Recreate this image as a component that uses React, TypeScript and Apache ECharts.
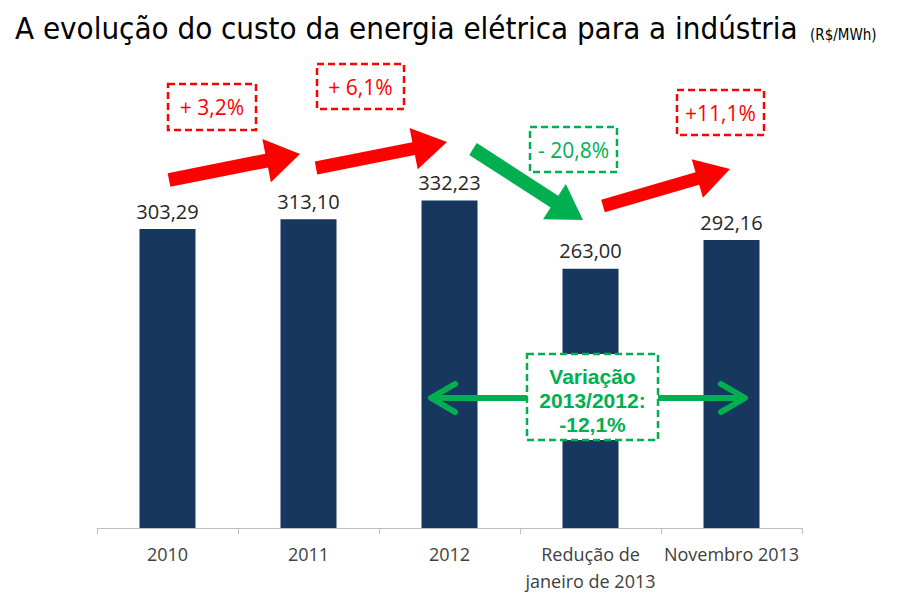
import React, { useEffect, useRef } from "react";
import * as echarts from "echarts";

const categories = ["2010", "2011", "2012", "Redução de\njaneiro de 2013", "Novembro 2013"];
const values = [303.29, 313.1, 332.23, 263.0, 292.16];
const titleText = "A evolução do custo da energia elétrica para a indústria";
const unitText = "(R$/MWh)";
const changeLabels = ["+ 3,2%", "+ 6,1%", "- 20,8%", "+11,1%"];
const variationText = "Variação\n2013/2012:\n-12,1%";

const RED = "#ff0000";
const GREEN = "#00b050";

function arrowPoints(tx: number, ty: number, hx: number, hy: number, s: number, hw: number, hl: number) {
  const dx = hx - tx, dy = hy - ty;
  const L = Math.hypot(dx, dy);
  const ux = dx / L, uy = dy / L;
  const nx = -uy, ny = ux;
  const bx = hx - ux * hl, by = hy - uy * hl;
  return [
    [tx + (nx * s) / 2, ty + (ny * s) / 2],
    [bx + (nx * s) / 2, by + (ny * s) / 2],
    [bx + (nx * hw) / 2, by + (ny * hw) / 2],
    [hx, hy],
    [bx - (nx * hw) / 2, by - (ny * hw) / 2],
    [bx - (nx * s) / 2, by - (ny * s) / 2],
    [tx - (nx * s) / 2, ty - (ny * s) / 2],
  ];
}

function dashedBox(x: number, y: number, w: number, h: number, color: string) {
  return {
    type: "rect",
    z: 100,
    shape: { x, y, width: w, height: h },
    style: { fill: "#ffffff", stroke: color, lineWidth: 2.5, lineDash: [7, 4] },
  };
}

function boxText(x: number, y: number, text: string, color: string, extra: any = {}) {
  return {
    type: "text",
    z: 101,
    style: {
      x,
      y,
      text,
      fill: color,
      align: "center",
      verticalAlign: "middle",
      fontFamily: "Open Sans",
      fontSize: 21,
      ...extra,
    },
  };
}

export default function App() {
  const ref = useRef<HTMLDivElement>(null);
  useEffect(() => {
    if (!ref.current) return;
    const chart = echarts.init(ref.current, undefined, { renderer: "svg" });
    const arrows = [
      { p: arrowPoints(169, 180, 300, 154, 14, 44, 34), c: RED },
      { p: arrowPoints(316, 168, 447, 142, 13, 42, 34), c: RED },
      { p: arrowPoints(473, 149, 583, 220, 14, 42, 34), c: GREEN },
      { p: arrowPoints(603, 206, 730, 169, 13, 40, 34), c: RED },
    ];
    chart.setOption({
      animation: false,
      backgroundColor: "#ffffff",
      title: [
        {
          text: titleText,
          left: 10,
          top: 7,
          textStyle: { fontFamily: "DejaVu Sans Condensed, DejaVu Sans", fontSize: 31, fontWeight: "normal", color: "#000000" },
        },
        {
          text: unitText,
          left: 805,
          top: 22,
          textStyle: { fontFamily: "DejaVu Sans Condensed, DejaVu Sans", fontSize: 15, fontWeight: "normal", color: "#000000" },
        },
      ],
      grid: { left: 97, right: 106, top: 183, bottom: 70 },
      xAxis: {
        type: "category",
        data: categories,
        axisLine: { lineStyle: { color: "#bfbfbf", width: 1 } },
        axisTick: { show: true, length: 6, lineStyle: { color: "#bfbfbf" } },
        axisLabel: {
          interval: 0,
          margin: 12,
          color: "#404040",
          fontFamily: "Open Sans",
          fontSize: 18,
          lineHeight: 27,
        },
      },
      yAxis: { type: "value", min: 0, max: 350, show: false },
      series: [
        {
          type: "bar",
          data: values,
          barWidth: 56,
          itemStyle: { color: "#17375e" },
          label: {
            show: true,
            position: "top",
            distance: 8,
            color: "#262626",
            fontFamily: "Open Sans",
            fontSize: 20,
            formatter: (p: any) => p.value.toFixed(2).replace(".", ","),
          },
        },
      ],
      graphic: [
        ...arrows.map((a) => ({ type: "polygon", z: 100, shape: { points: a.p }, style: { fill: a.c } })),
        dashedBox(168, 84, 88, 46, RED),
        boxText(212, 107, changeLabels[0], RED),
        dashedBox(317, 64, 87, 45, RED),
        boxText(360.5, 86.5, changeLabels[1], RED),
        dashedBox(530, 127, 87, 45, GREEN),
        boxText(573.5, 149.5, changeLabels[2], GREEN),
        dashedBox(677, 90, 87, 45, RED),
        boxText(720.5, 112.5, changeLabels[3], RED),
        {
          type: "line",
          z: 99,
          shape: { x1: 432, y1: 398, x2: 744, y2: 398 },
          style: { stroke: GREEN, lineWidth: 6 },
        },
        {
          type: "polyline",
          z: 99,
          shape: { points: [[455, 384], [431, 398], [455, 412]] },
          style: { stroke: GREEN, lineWidth: 6, lineCap: "round", lineJoin: "round", fill: "none" },
        },
        {
          type: "polyline",
          z: 99,
          shape: { points: [[721, 384], [745, 398], [721, 412]] },
          style: { stroke: GREEN, lineWidth: 6, lineCap: "round", lineJoin: "round", fill: "none" },
        },
        dashedBox(527, 354, 131, 86, GREEN),
        boxText(592.5, 400, variationText, GREEN, {
          fontFamily: "Liberation Sans",
          fontWeight: "bold",
          fontSize: 21,
          lineHeight: 24,
        }),
      ],
    });
    return () => chart.dispose();
  }, []);
  return (
    <div
      ref={ref}
      style={{ position: "fixed", left: 0, top: 0, width: 908, height: 598, background: "#fff" }}
    />
  );
}
